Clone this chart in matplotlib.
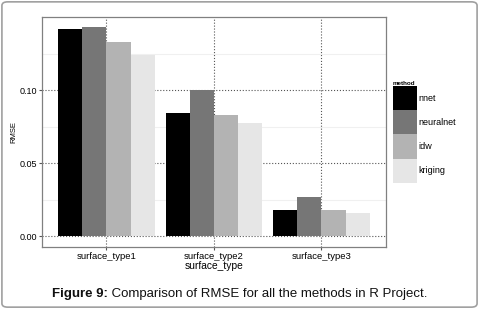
import numpy as np
import matplotlib.pyplot as plt
from matplotlib.patches import Rectangle, FancyBboxPatch

plt.rcParams['font.family'] = ['Liberation Sans', 'DejaVu Sans']

# RMSE por tipo de superficie y método
tipos = ['surface_type1', 'surface_type2', 'surface_type3']
metodos = ['nnet', 'neuralnet', 'idw', 'kriging']
nnet = [0.142, 0.0842, 0.0178]
neuralnet = [0.143, 0.1005, 0.0267]
idw = [0.1327, 0.0829, 0.0178]
kriging = [0.124, 0.0774, 0.0158]
colores = ['#000000', '#767676', '#b3b3b3', '#e6e6e6']

series = [nnet, neuralnet, idw, kriging]

fig = plt.figure(figsize=(4.79, 3.09), dpi=100)
ax = fig.add_axes([0.0877, 0.2016, 0.718, 0.7434])

x = np.arange(1, len(tipos) + 1)
ancho = 0.9 / len(metodos)
for i, (vals, col) in enumerate(zip(series, colores)):
    ax.bar(x - 0.45 + ancho * (i + 0.5), vals, width=ancho, color=col,
           label=metodos[i], zorder=3)

ymax = max(max(s) for s in series)
ax.set_xlim(0.4, 3.6)
ax.set_ylim(-0.05 * ymax, ymax * 1.05)
ax.set_xticks(x)
ax.set_xticklabels(tipos, fontsize=6.8)
ax.set_yticks([0.0, 0.05, 0.10])
ax.set_yticklabels(['0.00', '0.05', '0.10'], fontsize=6.5)
ax.set_yticks([0.025, 0.075, 0.125], minor=True)
ax.tick_params(which='minor', length=0)
ax.tick_params(which='major', length=2.5, color='#555555', pad=1)

ax.grid(which='major', linestyle=':', color='#555555', linewidth=0.8, zorder=0)
ax.grid(which='minor', axis='y', linestyle='-', color='#f0f0f0', linewidth=0.8, zorder=0)
for s in ax.spines.values():
    s.set_color('#808080')
    s.set_linewidth(0.9)

ax.set_xlabel('surface_type', fontsize=7.4, labelpad=0)
ax.set_ylabel('RMSE', fontsize=5.5)
ax.yaxis.set_label_coords(-0.073, 0.5)

# leyenda
handles = [Rectangle((0, 0), 1, 1, facecolor=c, edgecolor='none') for c in colores]
leg = fig.legend(handles, metodos, loc='upper left',
                 bbox_to_anchor=(393 / 479, 1 - 81 / 309), frameon=False,
                 fontsize=6.5, title='method', alignment='left',
                 handlelength=2.66, handleheight=3.75, handletextpad=0.15,
                 labelspacing=0, borderpad=0, borderaxespad=0)
leg.get_title().set_fontsize(4.5)
leg.get_title().set_fontweight('bold')

# marco redondeado
fig.patches.append(FancyBboxPatch((0.004, 0.006), 0.992, 0.988,
                                  boxstyle='round,pad=0,rounding_size=0.012',
                                  transform=fig.transFigure, fill=False,
                                  edgecolor='#a0a0a0', linewidth=1.2))

# pie de figura
t1 = fig.text(52 / 479, 1 - 297 / 309, 'Figure 9:', fontsize=9.5,
              fontweight='bold', color='#111111')
ax.annotate(' Comparison of RMSE for all the methods in R Project.',
            xy=(1, 0), xycoords=t1, fontsize=9.5, color='#111111',
            va='bottom', ha='left', annotation_clip=False)

fig.savefig('out.png', dpi=100)
